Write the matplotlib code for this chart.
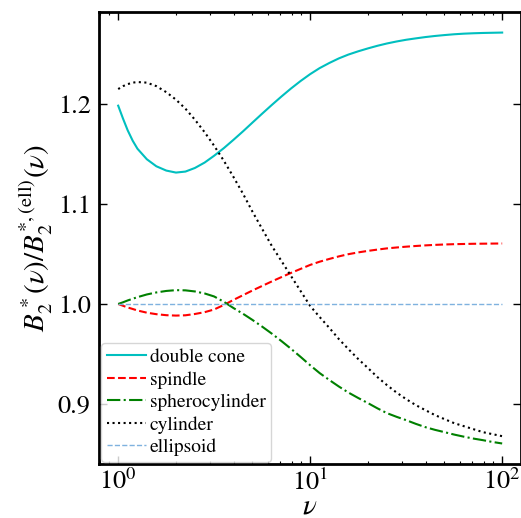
import matplotlib
matplotlib.use("Agg")
import matplotlib.pyplot as plt

plt.rcParams["font.family"] = "serif"
plt.rcParams["font.serif"] = ["STIXGeneral", "Liberation Serif", "DejaVu Serif"]
plt.rcParams["mathtext.fontset"] = "stix"

# aspect ratio nu (1/40 decade steps up to 1.26, then 1/20 decade)
nu = [1.0, 1.06, 1.12, 1.19, 1.26, 1.41, 1.58, 1.78, 2.0, 2.24, 2.51, 2.82, 3.16, 3.55,
      3.98, 4.47, 5.01, 5.62, 6.31, 7.08, 7.94, 8.91, 10.0, 11.2, 12.6, 14.1, 15.8, 17.8,
      20.0, 22.4, 25.1, 28.2, 31.6, 35.5, 39.8, 44.7, 50.1, 56.2, 63.1, 70.8, 79.4, 89.1, 100.0]

double_cone = [1.198, 1.185, 1.1735, 1.163, 1.155, 1.1445, 1.1375, 1.1332, 1.1312, 1.1322, 1.1358,
               1.1412, 1.1480, 1.1556, 1.1638, 1.1724, 1.1812, 1.1900, 1.1987, 1.2071, 1.2151,
               1.2226, 1.2295, 1.2355, 1.2407, 1.2452, 1.2490, 1.2523, 1.2552, 1.2578, 1.2601,
               1.2621, 1.2638, 1.2652, 1.2665, 1.2676, 1.2685, 1.2693, 1.2699, 1.2703, 1.2706,
               1.2708, 1.2710]
spindle = [1.000, 0.9982, 0.9965, 0.9950, 0.9935, 0.9913, 0.9898, 0.9888, 0.9884, 0.9887, 0.9900,
           0.9918, 0.9945, 0.9990, 1.0040, 1.0088, 1.0135, 1.0180, 1.0225, 1.0268, 1.0310, 1.0350,
           1.0390, 1.0422, 1.0450, 1.0475, 1.0497, 1.0515, 1.0530, 1.0543, 1.0555, 1.0564, 1.0572,
           1.0579, 1.0585, 1.0590, 1.0594, 1.0597, 1.0599, 1.0601, 1.0602, 1.0603, 1.0604]
spherocylinder = [1.000, 1.0017, 1.0035, 1.0052, 1.0068, 1.0095, 1.0115, 1.0130, 1.0138, 1.0136,
                  1.0125, 1.0105, 1.0075, 1.0022, 0.9960, 0.9902, 0.9840, 0.9774, 0.9704, 0.9630,
                  0.9553, 0.9472, 0.9388, 0.9310, 0.9240, 0.9176, 0.9116, 0.9061, 0.9010, 0.8958,
                  0.8910, 0.8873, 0.8840, 0.8803, 0.8770, 0.8743, 0.8720, 0.8696, 0.8675, 0.8656,
                  0.8640, 0.8622, 0.8607]
cylinder = [1.2146, 1.2175, 1.2195, 1.2210, 1.2216, 1.2210, 1.2175, 1.2115, 1.204, 1.195, 1.184,
            1.1715, 1.158, 1.143, 1.127, 1.110, 1.092, 1.075, 1.058, 1.043, 1.028, 1.013,
            0.998, 0.987, 0.976, 0.965, 0.955, 0.945, 0.936, 0.927, 0.919, 0.9115, 0.905,
            0.899, 0.894, 0.889, 0.885, 0.881, 0.878, 0.875, 0.872, 0.870, 0.868]
ellipsoid = [1.0] * len(nu)

fig = plt.figure(figsize=(5.21, 5.18), dpi=100)
ax = fig.add_axes([0.190, 0.1042, 0.8107, 0.8726])

ax.plot(nu, double_cone, color="c", ls="-", lw=1.5, label="double cone")
ax.plot(nu, spindle, color="r", ls="--", lw=1.5, label="spindle")
ax.plot(nu, spherocylinder, color="g", ls="-.", lw=1.5, label="spherocylinder")
ax.plot(nu, cylinder, color="k", ls=":", lw=1.5, label="cylinder")
ax.plot(nu, ellipsoid, color="#7fb2df", ls="--", lw=1.0, label="ellipsoid")

ax.set_xscale("log")
ax.set_yticks([0.9, 1.0, 1.1, 1.2])
ax.set_xlabel(r"$\nu$", fontsize=21, labelpad=-1)
ax.set_ylabel(r"$B_2^*(\nu)/B_2^{*,(\mathrm{ell})}(\nu)$", fontsize=21, labelpad=2)

for s in ax.spines.values():
    s.set_linewidth(2)
ax.tick_params(which="both", direction="in", top=True, right=True, labelsize=19)
ax.tick_params(which="major", length=5.5, width=1, pad=6)
ax.tick_params(which="minor", length=2.5, width=0.8)
ax.tick_params(axis="x", which="major", pad=4)

ax.legend(loc="lower left", fontsize=14, labelspacing=0.25, handlelength=2.0,
          handletextpad=0.2, borderaxespad=0.1, borderpad=0.3)

fig.savefig("out.png", dpi=100)
